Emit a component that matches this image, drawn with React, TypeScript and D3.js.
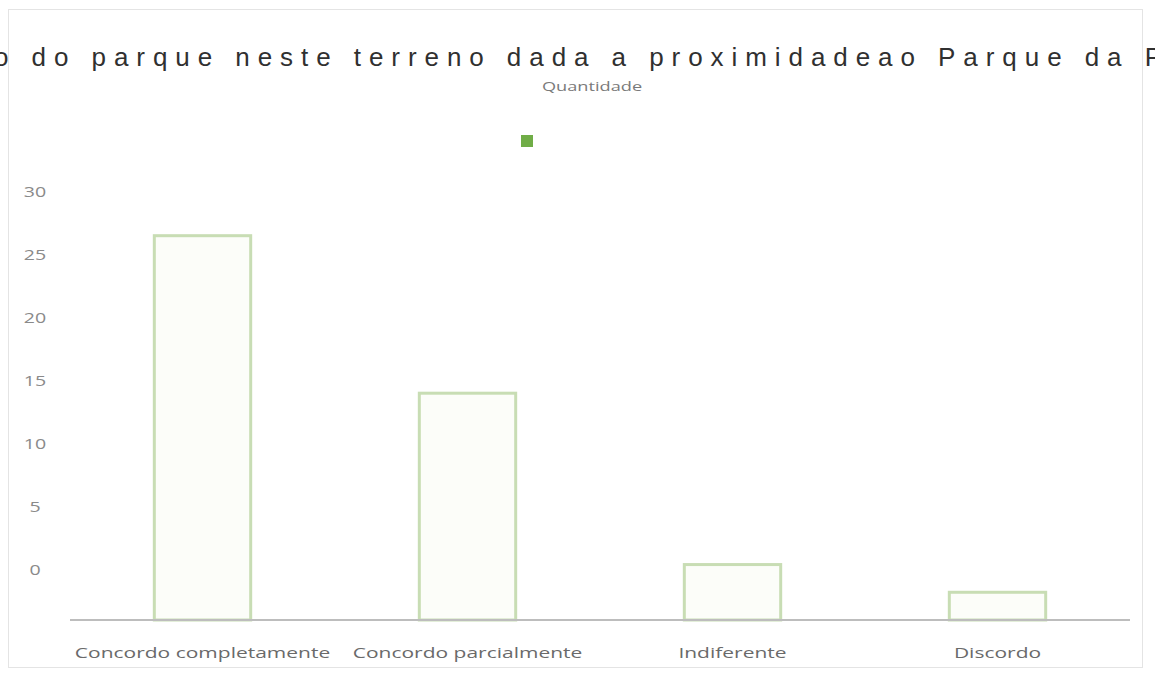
import * as React from 'react';
import * as d3 from 'd3';

// data
const categories = ['Concordo completamente', 'Concordo parcialmente', 'Indiferente', 'Discordo'];
const quantidade = [30.5, 18, 4.4, 2.2];
const yTicks = [0, 5, 10, 15, 20, 25, 30];
const titleText = 'o do parque neste terreno dada a proximidadeao Parque da P';
const seriesName = 'Quantidade';

const W = 1155;
const H = 677;
const margin = { top: 179, right: 25, bottom: 57, left: 70 };
const baseline = H - margin.bottom; // 620
const stretch = 1.4; // text in the picture is horizontally stretched

const App = () => {
  const yAxisRef = React.useRef<SVGGElement>(null);

  const x = d3.scaleBand<string>()
    .domain(categories)
    .range([margin.left, W - margin.right])
    .paddingInner(0.625)
    .paddingOuter(0.3125);

  const y = d3.scaleLinear().domain([0, 35]).range([baseline, margin.top]);
  // the tick labels sit 4 units above where the bars put them
  const yLabel = d3.scaleLinear().domain([0, 30]).range([y(4), y(34)]);

  React.useEffect(() => {
    const g = d3.select(yAxisRef.current);
    g.selectAll('*').remove();
    g.call(d3.axisLeft(yLabel).tickValues(yTicks).tickSize(0).tickPadding(0));
    g.select('.domain').remove();
    g.selectAll('.tick text')
      .attr('x', 0)
      .attr('dy', '0.35em')
      .attr('text-anchor', 'middle')
      .attr('transform', `scale(${stretch},1)`)
      .attr('fill', '#8a8a8a')
      .style('font-family', '"Open Sans", sans-serif')
      .style('font-size', '14px');
  }, []);

  return (
    <svg width={W} height={H} style={{ position: 'absolute', left: 0, top: 0, background: '#fff' }}>
      <rect x={8.5} y={9.5} width={1134} height={658} fill="none" stroke="#e4e4e4" strokeWidth={1} />

      <text x={-6} y={66} textLength={1168} lengthAdjust="spacing"
        fontFamily='"Liberation Sans", Arial, sans-serif' fontSize={26} fill="#303030">
        {titleText}
      </text>

      <text transform={`translate(592,91) scale(${stretch},1)`} textAnchor="middle"
        fontFamily='"Open Sans", sans-serif' fontSize={13} fill="#7a7a7a">
        {seriesName}
      </text>

      <rect x={521} y={135} width={12} height={12} fill="#70ad47" />

      <g ref={yAxisRef} transform="translate(35,0)" />

      {categories.map((c, i) => (
        <rect key={c}
          x={x(c)! + 1.5}
          y={y(quantidade[i])}
          width={x.bandwidth() - 3}
          height={baseline - y(quantidade[i])}
          fill="#fcfdf9"
          stroke="#c8ddb4"
          strokeWidth={3} />
      ))}

      <line x1={margin.left} x2={W - margin.right} y1={baseline} y2={baseline} stroke="#bdbdbd" strokeWidth={2} />

      {categories.map((c) => (
        <text key={c}
          transform={`translate(${x(c)! + x.bandwidth() / 2},${baseline + 38}) scale(${stretch},1)`}
          textAnchor="middle"
          fontFamily='"Open Sans", sans-serif' fontSize={15} fill="#6a6a6a">
          {c}
        </text>
      ))}
    </svg>
  );
};

export default App;
